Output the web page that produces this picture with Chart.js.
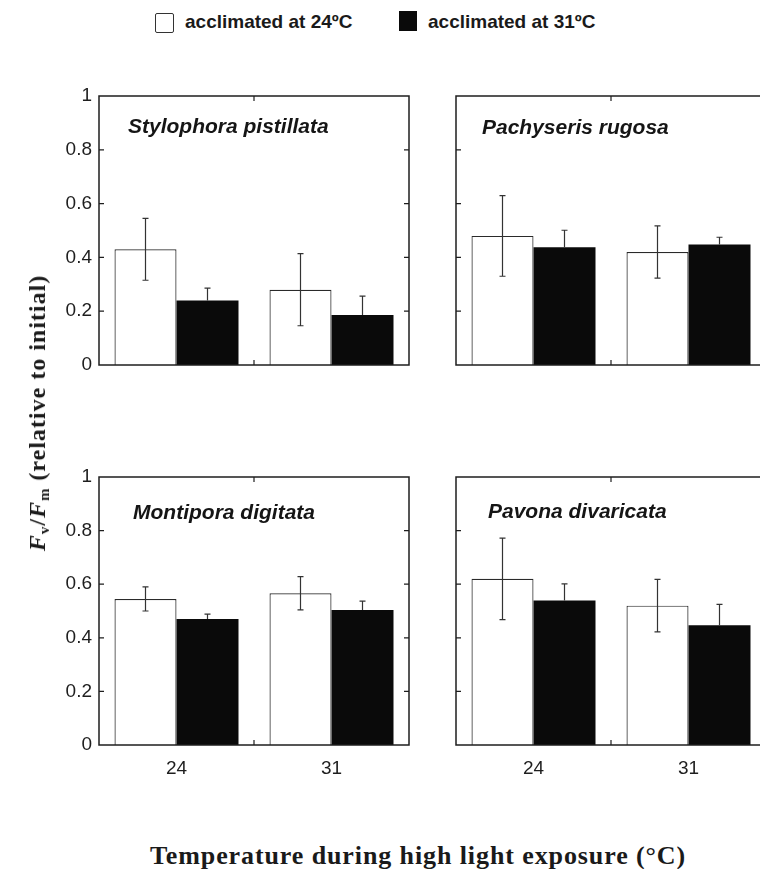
<!DOCTYPE html>
<html>
<head>
<meta charset="utf-8">
<script src="https://cdn.jsdelivr.net/npm/chart.js@4.4.1/dist/chart.umd.min.js"></script>
<style>
  html, body { margin: 0; padding: 0; background: #fff; overflow: hidden; }
  .page { position: relative; width: 760px; height: 869px; overflow: hidden; background: #fff; }
  canvas { position: absolute; }
  .lg-box { position: absolute; box-sizing: border-box; }
  .lg-text { position: absolute; font: bold 19px "Liberation Sans", Arial, sans-serif; color: #1a1a1a; line-height: 20px; white-space: nowrap; }
  #ytitle {
    position: absolute; left: 37px; top: 413px;
    transform: translate(-50%, -50%) rotate(-90deg);
    font: bold 24px "Liberation Serif", "Times New Roman", serif;
    letter-spacing: 1px; line-height: 1; white-space: nowrap; color: #1a1a1a;
  }
  #ytitle sub { font-size: 62%; vertical-align: -0.3em; line-height: 0; }
  #xtitle {
    position: absolute; left: 0; width: 836px; top: 843px; text-align: center;
    font: bold 26px "Liberation Serif", "Times New Roman", serif;
    letter-spacing: 0.9px; line-height: 1; white-space: nowrap; color: #1a1a1a;
  }
</style>
</head>
<body>
<div class="page">
  <div class="lg-box" style="left:155px;top:13px;width:19px;height:20px;border:1.5px solid #333;border-radius:2px;background:#fff;"></div>
  <div class="lg-text" style="left:185px;top:12px;">acclimated at 24ºC</div>
  <div class="lg-box" style="left:399px;top:11px;width:18px;height:20px;background:#0a0a0a;"></div>
  <div class="lg-text" style="left:428px;top:12px;">acclimated at 31ºC</div>

  <canvas id="p0"></canvas>
  <canvas id="p1"></canvas>
  <canvas id="p2"></canvas>
  <canvas id="p3"></canvas>

  <div id="ytitle"><i>F</i><sub>v</sub>/<i>F</i><sub>m</sub> (relative to initial)</div>
  <div id="xtitle">Temperature during high light exposure (°C)</div>
</div>

<script>
// data (Fv/Fm relative to initial)
const speciesNames = ["Stylophora pistillata", "Pachyseris rugosa", "Montipora digitata", "Pavona divaricata"];
const tempLabels = ["24", "31"];
const seriesNames = ["acclimated at 24ºC", "acclimated at 31ºC"];
const mean24 = [[0.43, 0.28], [0.48, 0.42], [0.545, 0.566], [0.62, 0.52]];
const err24 = [[0.115, 0.134], [0.15, 0.097], [0.045, 0.062], [0.152, 0.098]];
const mean31 = [[0.24, 0.186], [0.438, 0.448], [0.47, 0.504], [0.539, 0.447]];
const err31 = [[0.046, 0.07], [0.063, 0.027], [0.018, 0.033], [0.062, 0.078]];
const yTicks = [0, 0.2, 0.4, 0.6, 0.8, 1];

// panel frames in page pixels: left, top, right, bottom
const layout = [
  { frame: [99, 96, 409, 365], label: [29, 31], showY: true, showX: false },
  { frame: [456, 96, 766, 365], label: [26, 32], showY: false, showX: false },
  { frame: [99, 477, 409, 745], label: [34, 36], showY: true, showX: true },
  { frame: [456, 477, 766, 745], label: [32, 35], showY: false, showX: true },
];

const PAD_L = 60, PAD_T = 20, PAD_R = 10, PAD_B = 40;
const ink = "#1e1e1e";

const errorBars = {
  id: "errorBars",
  afterDatasetsDraw(chart) {
    const ctx = chart.ctx;
    const y = chart.scales.y;
    ctx.save();
    ctx.lineWidth = 1.2;
    chart.data.datasets.forEach((ds, di) => {
      const meta = chart.getDatasetMeta(di);
      meta.data.forEach((bar, i) => {
        const v = ds.data[i], e = ds.errors[i];
        const top = y.getPixelForValue(v + e);
        const bot = y.getPixelForValue(v - e);
        ctx.strokeStyle = "#333";
        ctx.beginPath();
        ctx.moveTo(bar.x - 3, top); ctx.lineTo(bar.x + 3, top);
        if (di === 0) {
          ctx.moveTo(bar.x, top); ctx.lineTo(bar.x, bot);
          ctx.moveTo(bar.x - 3, bot); ctx.lineTo(bar.x + 3, bot);
        } else {
          // lower half disappears inside the black bar
          ctx.moveTo(bar.x, top); ctx.lineTo(bar.x, bar.y);
        }
        ctx.stroke();
      });
    });
    ctx.restore();
  },
};

const frameTicks = {
  id: "frameTicks",
  afterDraw(chart, args, opts) {
    const { ctx, chartArea: a } = chart;
    const y = chart.scales.y, x = chart.scales.x;
    ctx.save();
    ctx.strokeStyle = ink;
    ctx.lineWidth = 1.5;
    ctx.strokeRect(a.left, a.top, a.right - a.left, a.bottom - a.top);
    ctx.lineWidth = 1.2;
    ctx.beginPath();
    yTicks.slice(1, -1).forEach((t) => {
      const py = y.getPixelForValue(t);
      ctx.moveTo(a.left, py); ctx.lineTo(a.left + 5, py);
      ctx.moveTo(a.right, py); ctx.lineTo(a.right - 5, py);
    });
    const mid = (x.getPixelForValue(0) + x.getPixelForValue(1)) / 2;
    ctx.moveTo(mid, a.top); ctx.lineTo(mid, a.top + 5);
    ctx.moveTo(mid, a.bottom); ctx.lineTo(mid, a.bottom - 5);
    ctx.stroke();

    // species name inside the panel
    ctx.fillStyle = "#151515";
    ctx.font = "italic bold 21px 'Liberation Sans', Arial, sans-serif";
    ctx.textBaseline = "middle";
    ctx.textAlign = "left";
    ctx.fillText(opts.name, a.left + opts.dx, a.top + opts.dy);
    ctx.restore();
  },
};

speciesNames.forEach((name, k) => {
  const L = layout[k];
  const [fl, ft, fr, fb] = L.frame;
  const canvas = document.getElementById("p" + k);
  const w = fr - fl + PAD_L + PAD_R;
  const h = fb - ft + PAD_T + PAD_B;
  canvas.width = w;
  canvas.height = h;
  canvas.style.width = w + "px";
  canvas.style.height = h + "px";
  canvas.style.left = fl - PAD_L + "px";
  canvas.style.top = ft - PAD_T + "px";

  new Chart(canvas.getContext("2d"), {
    type: "bar",
    data: {
      labels: tempLabels,
      datasets: [
        {
          label: seriesNames[0],
          data: mean24[k],
          errors: err24[k],
          backgroundColor: "#ffffff",
          borderColor: "#2a2a2a",
          borderWidth: 1.2,
          barPercentage: 1.0,
          categoryPercentage: 0.8,
        },
        {
          label: seriesNames[1],
          data: mean31[k],
          errors: err31[k],
          backgroundColor: "#0a0a0a",
          borderColor: "#0a0a0a",
          borderWidth: 0,
          barPercentage: 1.0,
          categoryPercentage: 0.8,
        },
      ],
    },
    options: {
      responsive: false,
      animation: false,
      events: [],
      layout: { padding: { left: 0, top: PAD_T, right: PAD_R, bottom: 0 } },
      plugins: {
        legend: { display: false },
        tooltip: { enabled: false },
        frameTicks: { name: name, dx: L.label[0], dy: L.label[1] },
      },
      scales: {
        x: {
          grid: { display: false, drawTicks: false },
          border: { display: false },
          ticks: {
            display: L.showX,
            padding: 12,
            color: ink,
            font: { family: "'Liberation Sans', Arial, sans-serif", size: 19 },
          },
          afterFit: (s) => { s.height = PAD_B; },
        },
        y: {
          min: 0,
          max: 1,
          grid: { display: false, drawTicks: false },
          border: { display: false },
          ticks: {
            display: L.showY,
            stepSize: 0.2,
            padding: 7,
            color: ink,
            font: { family: "'Liberation Sans', Arial, sans-serif", size: 19 },
            callback: (v) => String(Number(v.toFixed(1))),
          },
          afterFit: (s) => { s.width = PAD_L; },
        },
      },
    },
    plugins: [errorBars, frameTicks],
  });
});
</script>
</body>
</html>
